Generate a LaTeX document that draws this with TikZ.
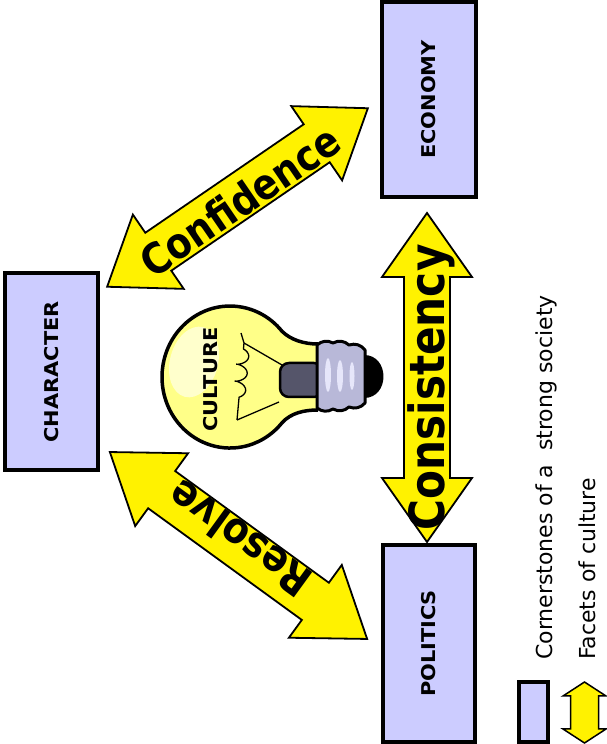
\documentclass[tikz,border=0pt]{standalone}
\usepackage{fontspec}
\setmainfont{DejaVu Sans}
\newfontfamily\widefont[FakeStretch=1.1]{DejaVu Sans}
\newfontfamily\narrowfont[FakeStretch=0.87]{DejaVu Sans}
\usepackage{tikz}
\usetikzlibrary{decorations.pathmorphing}
\usepackage{color}
\definecolor{boxblue}{HTML}{CCCCFF}
\definecolor{glass}{HTML}{FFFF88}
\definecolor{glasslight}{HTML}{FFFFCC}
\definecolor{screw}{HTML}{B8B8D8}
\definecolor{screwlight}{HTML}{E6E6FA}
\definecolor{stem}{HTML}{55556A}

\begin{document}
\begin{tikzpicture}[x=1pt, y=1pt,
  cornerstone/.style={draw=black, line width=4pt, fill=boxblue, rotate=90, inner sep=0pt,
    font=\widefont\bfseries\fontsize{19}{22}\selectfont},
  facet/.style={draw=black, line width=1.8pt, fill=yellow, line join=miter},
  facettext/.style={inner sep=0pt, transform shape},
  legend/.style={inner sep=0pt, rotate=90, anchor=base west, font=\fontsize{22}{26}\selectfont}]
\useasboundingbox (0,0) rectangle (607,744);

% cornerstones
\node [cornerstone, minimum width=197, minimum height=93] (character) at (51.5,372) {CHARACTER};
\node [cornerstone, minimum width=195, minimum height=94] (economy) at (429,644.5) {ECONOMY};
\node [cornerstone, minimum width=197, minimum height=92.5] (politics) at (429,100.5) {POLITICS};

% facets
\begin{scope}[shift={(237.5,546.5)}, rotate=34.4]
\draw [facet] (-158,0) -- (-96,45) -- (-96,23) -- (96,23) -- (96,45) -- (158,0) -- (96,-45) -- (96,-23) -- (-96,-23) -- (-96,-45) -- cycle;
\node [facettext, font=\narrowfont\bfseries\fontsize{42.5}{46}\selectfont] (confidence) at (0,-4) {Confidence};
\end{scope}

\begin{scope}[shift={(238.5,198.5)}, rotate=-36]
\draw [facet] (-159,0) -- (-95,45) -- (-95,23) -- (95,23) -- (95,45) -- (159,0) -- (95,-45) -- (95,-23) -- (-95,-23) -- (-95,-45) -- cycle;
\node [facettext, rotate=180, font=\narrowfont\bfseries\fontsize{43}{46}\selectfont] (resolve) at (-3,6) {Resolve};
\end{scope}

\begin{scope}[shift={(427,366.5)}, rotate=90]
\draw [facet] (-164.5,0) -- (-100.5,45) -- (-100.5,23) -- (100.5,23) -- (100.5,45) -- (164.5,0) -- (100.5,-45) -- (100.5,-23) -- (-100.5,-23) -- (-100.5,-45) -- cycle;
\node [facettext, font=\narrowfont\bfseries\fontsize{48.5}{52}\selectfont] (consistency) at (-10,-4) {Consistency};
\end{scope}

% bulb
\fill [glass] (318,400) .. controls (304,400) and (291,404) .. (282.1,412.6) arc [start angle=40, end angle=320, x radius=68, y radius=71] .. controls (291,331) and (304,334) .. (318,334) -- cycle;
\fill [glasslight, rotate around={-15:(194,382)}] (194,382) ellipse [x radius=24, y radius=36];
\draw [line width=3.5pt, line join=round] (318,400) .. controls (304,400) and (291,404) .. (282.1,412.6) arc [start angle=40, end angle=320, x radius=68, y radius=71] .. controls (291,331) and (304,334) .. (318,334);

\draw [line width=1.3pt] (282,379) -- (244,401);
\draw [line width=1.3pt] (279,342) -- (237,324);
\draw [line width=1.3pt] (241,411) -- (244,401);
\draw [line width=1.3pt, decorate, decoration={coil, amplitude=6pt, segment length=17pt, pre length=6pt, post length=14pt}] (244,401) -- (237,324);

\draw [line width=2.5pt, fill=stem, rounded corners=9pt] (280,347) rectangle (323,381);

\draw [line width=3pt, fill=screw, line join=round] (317,336) -- (317,399) to [bend left=35] (333,401) to [bend left=35] (349,399) to [bend left=35] (365,394) -- (365,341) to [bend left=35] (349,337) to [bend left=35] (333,335) to [bend left=35] (317,336) -- cycle;
\fill [screwlight] (328,369) ellipse [x radius=3, y radius=17];
\fill [screwlight] (340,368) ellipse [x radius=3, y radius=16];
\fill [screwlight] (352,368) ellipse [x radius=2.5, y radius=14];
\fill [black] (364,389) .. controls (390,389) and (390,346) .. (364,346) -- cycle;

\node [rotate=90, inner sep=0pt, font=\widefont\bfseries\fontsize{19}{22}\selectfont] (culture) at (211,364.5) {CULTURE};

% legend
\node [cornerstone, minimum width=60, minimum height=29] (legendbox) at (533.5,32) {};
\draw [facet, line width=1.5pt] (584.5,62) -- (606,48) -- (598.5,48) -- (598.5,15) -- (606,15) -- (584.5,1) -- (563,15) -- (570.5,15) -- (570.5,48) -- (563,48) -- cycle;

\node [legend] (cornertext) at (552,84) {Cornerstones of a\ \ strong society};
\node [legend] (facettext) at (595,84) {Facets of culture};
\end{tikzpicture}
\end{document}
